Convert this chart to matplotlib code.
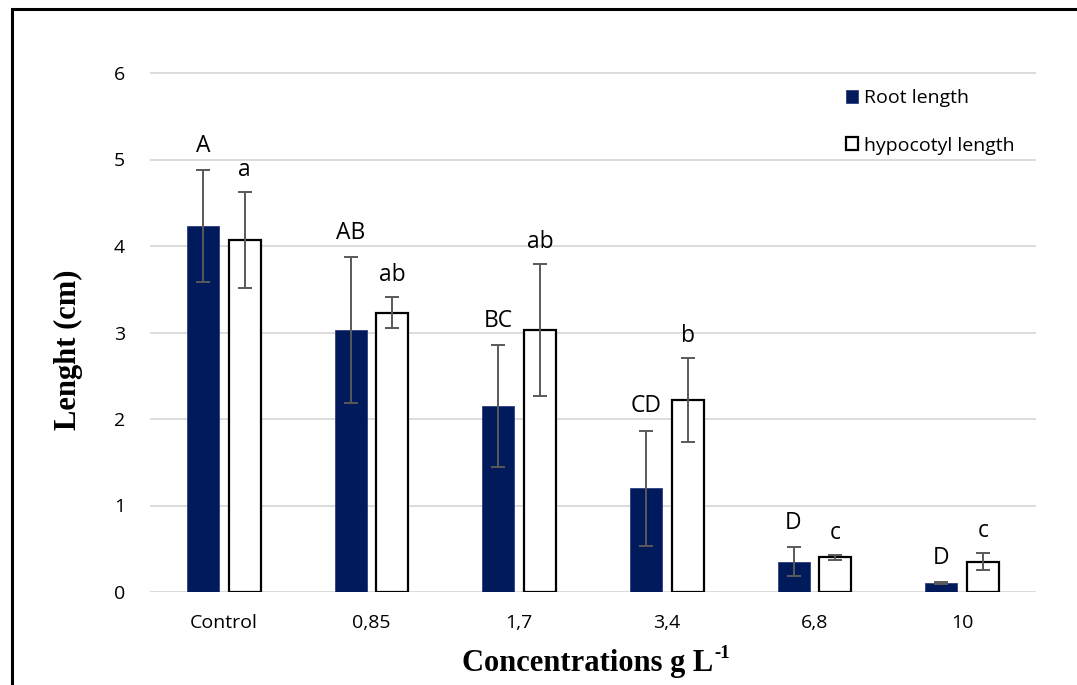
import numpy as np
import matplotlib
matplotlib.use("Agg")
import matplotlib.pyplot as plt
from matplotlib.patches import Rectangle

concentrations = ["Control", "0,85", "1,7", "3,4", "6,8", "10"]
root_length = [4.23, 3.03, 2.15, 1.20, 0.35, 0.10]
root_err = [0.645, 0.84, 0.70, 0.665, 0.17, 0.01]
hypo_length = [4.07, 3.23, 3.03, 2.22, 0.40, 0.35]
hypo_err = [0.56, 0.18, 0.76, 0.49, 0.03, 0.10]
root_letters = ["A", "AB", "BC", "CD", "D", "D"]
hypo_letters = ["a", "ab", "ab", "b", "c", "c"]

NAVY = "#001a5c"
SANS = ["Open Sans", "DejaVu Sans"]
SERIF = ["Liberation Serif", "DejaVu Serif"]


def main():
    fig = plt.figure(figsize=(10.77, 6.85), dpi=100)
    # axes spans y 0..7 so that 6 sits at pixel 73
    ax = fig.add_axes([150 / 1077, 1 - 592 / 685, 886 / 1077, 519 / 685 * 7 / 6])
    ax.set_ylim(0, 7)

    x = np.arange(len(concentrations))
    w = 0.217
    off = 0.142
    ek = dict(ecolor="#595959", elinewidth=1.4, capsize=5, capthick=1.4)
    ax.bar(x - off, root_length, w, color=NAVY, edgecolor="#2f3f7f", linewidth=0.6,
           yerr=root_err, error_kw=ek, label="Root length", zorder=3)
    ax.bar(x + off, hypo_length, w, color="white", edgecolor="black", linewidth=1.6,
           yerr=hypo_err, error_kw=ek, label="hypocotyl length", zorder=3)

    for i in range(len(x)):
        ax.annotate(root_letters[i], (x[i] - off, root_length[i] + root_err[i]),
                    xytext=(0, 9), textcoords="offset points", ha="center", va="bottom",
                    fontsize=16.5, family=SANS)
        ax.annotate(hypo_letters[i], (x[i] + off, hypo_length[i] + hypo_err[i]),
                    xytext=(0, 7), textcoords="offset points", ha="center", va="bottom",
                    fontsize=16.5, family=SANS)

    ax.set_xlim(-0.5, len(x) - 0.5)
    ax.set_xticks(x)
    ax.set_xticklabels(concentrations, family=SANS, fontsize=14)
    ax.set_yticks(range(7))
    ax.set_yticklabels([str(v) for v in range(7)], family=SANS, fontsize=14)
    ax.tick_params(length=0)
    ax.tick_params(axis="y", pad=18)
    ax.tick_params(axis="x", pad=16)
    ax.grid(axis="y", color="#d9d9d9", linewidth=1.3, zorder=0)
    ax.set_axisbelow(True)
    for s in ax.spines.values():
        s.set_visible(False)

    fig.text(68 / 1077, 1 - 350 / 685, "Lenght (cm)", family=SERIF, fontweight="bold",
             fontsize=22, rotation=90, ha="center", va="center")
    fig.text(713 / 1077, 1 - 663 / 685, "Concentrations g L", family=SERIF,
             fontweight="bold", fontsize=22, ha="right", va="center")
    fig.text(714 / 1077, 1 - 653 / 685, "-1", family=SERIF,
             fontweight="bold", fontsize=13.5, ha="left", va="center")

    ax.legend(loc="upper left", bbox_to_anchor=(828 / 1077, 1 - 72 / 685),
              bbox_transform=fig.transFigure, frameon=False,
              prop={"family": SANS, "size": 14}, handlelength=0.65, handleheight=0.65,
              handletextpad=0.3, labelspacing=1.5)

    fig.patches.append(Rectangle((12 / 1077, -0.1), 1.2, 1 - 9 / 685 + 0.1, transform=fig.transFigure,
                                 fill=False, edgecolor="black", linewidth=2.2))
    fig.savefig("out.png", dpi=100)


if __name__ == "__main__":
    main()
